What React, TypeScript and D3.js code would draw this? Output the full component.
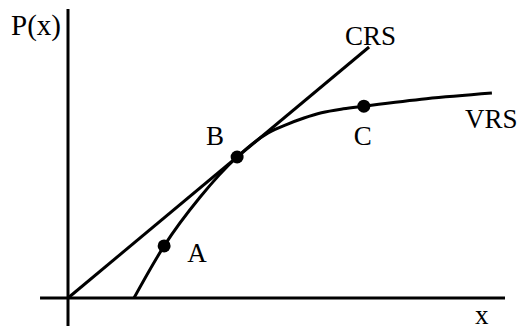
import * as d3 from "d3";

// curve points (x, P(x))
const vrsX = [1.51, 2.2, 3.02, 3.87, 4.58, 5.0, 5.4, 5.8, 6.3, 6.77, 8.2, 9.7];
const vrsY = [0, 1.19, 2.3, 3.22, 3.77, 3.96, 4.11, 4.23, 4.32, 4.38, 4.55, 4.68];
const crsX = [0, 6.89];
const crsSlope = 0.832;
const pointNames = ["A", "B", "C"];
const pointX = [2.2, 3.87, 6.77];
const pointY = [1.19, 3.22, 4.38];

const W = 519;
const H = 331;

export default function App() {
  const x = d3.scaleLinear().domain([0, 10]).range([68, 505]);
  const y = d3.scaleLinear().domain([0, 6.6]).range([298, 9]);

  const line = d3
    .line<[number, number]>()
    .x((d) => x(d[0]))
    .y((d) => y(d[1]));
  const vrsPath = line.curve(d3.curveMonotoneX)(vrsX.map((v, i) => [v, vrsY[i]]));
  const crsPath = d3
    .line<[number, number]>()
    .x((d) => x(d[0]))
    .y((d) => y(d[1]))(crsX.map((v) => [v, v * crsSlope]));

  const labelOffset: Record<string, [number, number]> = {
    A: [23, 16],
    B: [-31, -12],
    C: [-10, 39],
  };

  return (
    <svg
      width={W}
      height={H}
      style={{ position: "absolute", left: 0, top: 0, background: "#fff" }}
      fontFamily="'Liberation Serif', 'Times New Roman', serif"
      fontSize={27}
    >
      <line x1={x(-0.64)} x2={x(10)} y1={y(0)} y2={y(0)} stroke="#000" strokeWidth={3} />
      <line x1={x(0)} x2={x(0)} y1={y(-0.64)} y2={y(6.6)} stroke="#000" strokeWidth={3} />
      <path d={crsPath ?? ""} fill="none" stroke="#000" strokeWidth={3} />
      <path d={vrsPath ?? ""} fill="none" stroke="#000" strokeWidth={3} />
      {pointNames.map((n, i) => (
        <g key={n}>
          <circle cx={x(pointX[i])} cy={y(pointY[i])} r={6.5} fill="#000" />
          <text x={x(pointX[i]) + labelOffset[n][0]} y={y(pointY[i]) + labelOffset[n][1]}>
            {n}
          </text>
        </g>
      ))}
      <text x={11} y={35} fontSize={29}>P(x)</text>
      <text x={475} y={324}>x</text>
      <text x={345} y={45}>CRS</text>
      <text x={465} y={128}>VRS</text>
    </svg>
  );
}
